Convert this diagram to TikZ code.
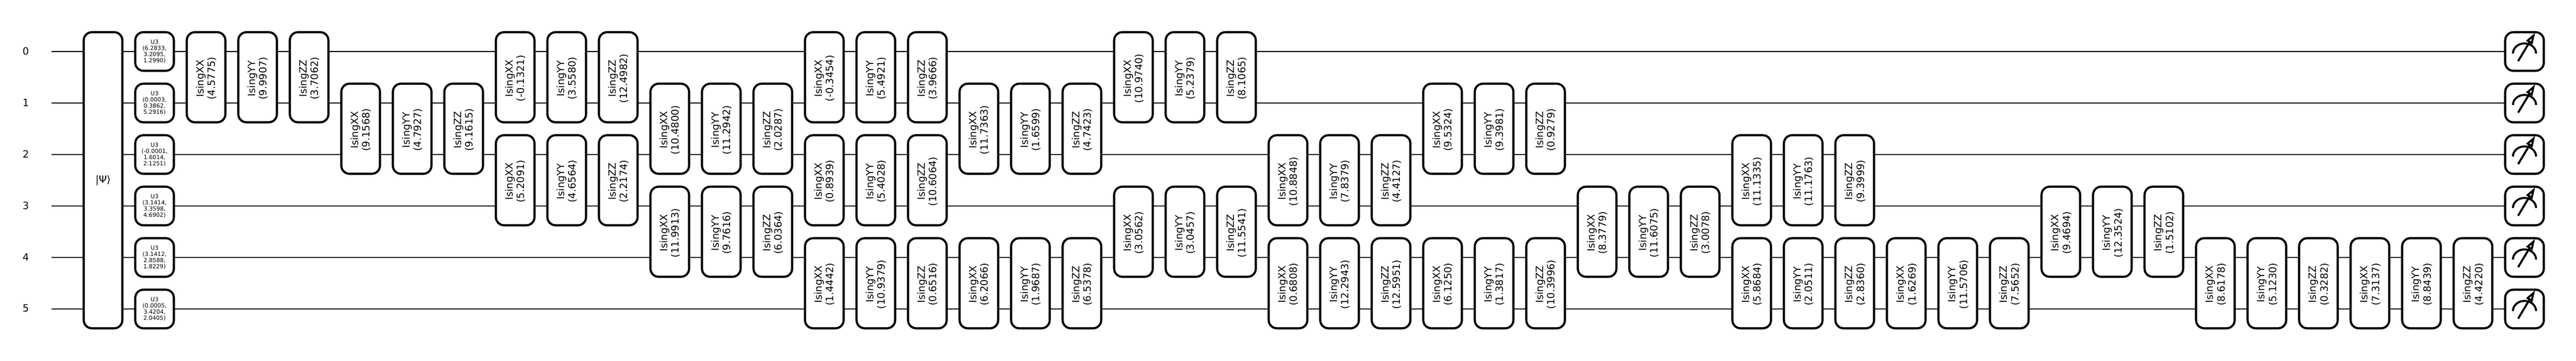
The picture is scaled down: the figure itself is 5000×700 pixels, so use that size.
\documentclass[tikz,border=0pt]{standalone}
\usepackage{fontspec}
\usepackage{graphicx}
\setmainfont{DejaVu Sans}
\tikzset{
  gatebox/.style={draw=black,fill=white,line width=3pt,rounded corners=11.5pt,
    minimum width=54pt,inner sep=0pt,outer sep=0pt},
  onewire/.style={minimum height=54pt},
  twowire/.style={minimum height=126pt},
  allwire/.style={minimum height=414pt},
  wireline/.style={draw=black,line width=2pt},
  wirelabel/.style={font=\fontsize{14}{16.8}\selectfont,inner sep=0pt},
  measline/.style={draw=black,line width=2.8pt,miter limit=20}
}
\newcommand{\wireseg}[2]{%
  \edef\prevname{\csname lastw#1\endcsname}%
  \draw[wireline] (\prevname |- w#1) -- (#2.west |- w#1);%
  \expandafter\xdef\csname lastw#1\endcsname{#2.east}}
\newcommand{\Ising}[4]{%
  \pgfmathtruncatemacro\nextw{#2+1}%
  \node[gatebox,twowire] (g#1w#2) at ({#1*100},{#2*100+150}) {\vbox{\vskip 3.2pt\hbox{\hskip 2.9pt\rotatebox[origin=c]{90}{\fontsize{14}{16.4}\selectfont\begin{tabular}{@{}c@{}}Ising#3\\(#4)\end{tabular}}}}};%
  \wireseg{#2}{g#1w#2}%
  \wireseg{\nextw}{g#1w#2}}
\newcommand{\UU}[4]{%
  \node[gatebox,onewire] (u#1) at (300,{#1*100+100}) {\vbox{\vskip 1.7pt\hbox{\fontsize{8}{8.4}\selectfont\begin{tabular}{@{}c@{}}U3\\(#2,\\#3,\\#4)\end{tabular}}}};%
  \wireseg{#1}{u#1}}
\newcommand{\Meas}[1]{%
  \node[gatebox,onewire] (m#1) at (4900,{#1*100+100}) {};%
  \wireseg{#1}{m#1}%
  \begin{scope}[shift={(m#1.center)}]
    \draw[measline] (-22.5,4) arc[start angle=180,end angle=0,x radius=16.2pt,y radius=14.2pt];
    \draw[measline] (-12.4,18.75) -- (10.1,-18.75);
    \draw[measline,fill=white,line join=miter] (14.1,-16.34) -- (17.3,-30.8) -- (6.1,-21.16) -- cycle;
  \end{scope}}
\begin{document}
\begin{tikzpicture}[x=0.72pt,y=-0.72pt]
\useasboundingbox (0,0) rectangle (5000,700);
\foreach \i in {0,...,5} {
  \coordinate (w\i) at (100,{\i*100+100});
  \node[wirelabel] (lab\i) at (50,{\i*100+99}) {\i};
  \expandafter\xdef\csname lastw\i\endcsname{w\i}
}
% state preparation
\node[gatebox,allwire] (st) at (200,350) {\fontsize{14}{16.8}\selectfont |Ψ⟩};
\wireseg{0}{st}\wireseg{1}{st}\wireseg{2}{st}\wireseg{3}{st}\wireseg{4}{st}\wireseg{5}{st}
% U3 layer
\UU{0}{6.2833}{3.2095}{1.2990}
\UU{1}{0.0003}{0.3862}{5.2916}
\UU{2}{-0.0001}{1.6014}{2.1251}
\UU{3}{3.1414}{3.3598}{4.6902}
\UU{4}{3.1412}{2.8588}{1.8229}
\UU{5}{0.0005}{3.4204}{2.0405}
% two-wire gates: column, top wire, type, value
\Ising{4}{0}{XX}{4.5775}
\Ising{5}{0}{YY}{9.9907}
\Ising{6}{0}{ZZ}{3.7062}
\Ising{7}{1}{XX}{9.1568}
\Ising{8}{1}{YY}{4.7927}
\Ising{9}{1}{ZZ}{9.1615}
\Ising{10}{0}{XX}{-0.1321}
\Ising{10}{2}{XX}{5.2091}
\Ising{11}{0}{YY}{3.5580}
\Ising{11}{2}{YY}{4.6564}
\Ising{12}{0}{ZZ}{12.4982}
\Ising{12}{2}{ZZ}{2.2174}
\Ising{13}{1}{XX}{10.4800}
\Ising{13}{3}{XX}{11.9913}
\Ising{14}{1}{YY}{11.2942}
\Ising{14}{3}{YY}{9.7616}
\Ising{15}{1}{ZZ}{2.0287}
\Ising{15}{3}{ZZ}{6.0364}
\Ising{16}{0}{XX}{-0.3454}
\Ising{16}{2}{XX}{0.8939}
\Ising{16}{4}{XX}{1.4442}
\Ising{17}{0}{YY}{5.4921}
\Ising{17}{2}{YY}{5.4028}
\Ising{17}{4}{YY}{10.9379}
\Ising{18}{0}{ZZ}{3.9666}
\Ising{18}{2}{ZZ}{10.6064}
\Ising{18}{4}{ZZ}{0.6516}
\Ising{19}{1}{XX}{11.7363}
\Ising{19}{4}{XX}{6.2066}
\Ising{20}{1}{YY}{1.6599}
\Ising{20}{4}{YY}{1.9687}
\Ising{21}{1}{ZZ}{4.7423}
\Ising{21}{4}{ZZ}{6.5378}
\Ising{22}{0}{XX}{10.9740}
\Ising{22}{3}{XX}{3.0562}
\Ising{23}{0}{YY}{5.2379}
\Ising{23}{3}{YY}{3.0457}
\Ising{24}{0}{ZZ}{8.1065}
\Ising{24}{3}{ZZ}{11.5541}
\Ising{25}{2}{XX}{10.8848}
\Ising{25}{4}{XX}{0.6808}
\Ising{26}{2}{YY}{7.8379}
\Ising{26}{4}{YY}{12.2943}
\Ising{27}{2}{ZZ}{4.4127}
\Ising{27}{4}{ZZ}{12.5951}
\Ising{28}{1}{XX}{9.5324}
\Ising{28}{4}{XX}{6.1250}
\Ising{29}{1}{YY}{9.3981}
\Ising{29}{4}{YY}{1.3817}
\Ising{30}{1}{ZZ}{0.9279}
\Ising{30}{4}{ZZ}{10.3996}
\Ising{31}{3}{XX}{8.3779}
\Ising{32}{3}{YY}{11.6075}
\Ising{33}{3}{ZZ}{3.0078}
\Ising{34}{2}{XX}{11.1335}
\Ising{34}{4}{XX}{5.8684}
\Ising{35}{2}{YY}{11.1763}
\Ising{35}{4}{YY}{2.0511}
\Ising{36}{2}{ZZ}{9.3999}
\Ising{36}{4}{ZZ}{2.8360}
\Ising{37}{4}{XX}{1.6269}
\Ising{38}{4}{YY}{11.5706}
\Ising{39}{4}{ZZ}{7.5652}
\Ising{40}{3}{XX}{9.4694}
\Ising{41}{3}{YY}{12.3524}
\Ising{42}{3}{ZZ}{1.5102}
\Ising{43}{4}{XX}{8.6178}
\Ising{44}{4}{YY}{5.1230}
\Ising{45}{4}{ZZ}{0.3282}
\Ising{46}{4}{XX}{7.3137}
\Ising{47}{4}{YY}{8.8439}
\Ising{48}{4}{ZZ}{4.4220}
% measurements
\Meas{0}\Meas{1}\Meas{2}\Meas{3}\Meas{4}\Meas{5}
\end{tikzpicture}
\end{document}
